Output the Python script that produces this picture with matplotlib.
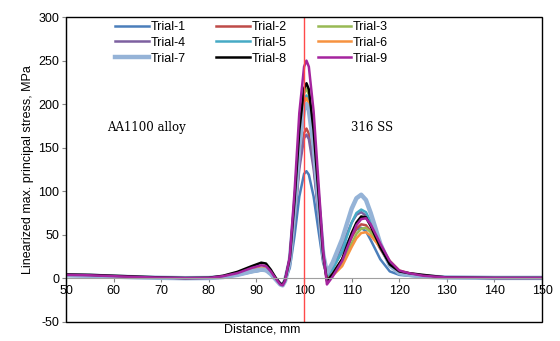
import matplotlib.pyplot as plt
from matplotlib.patches import Rectangle

plt.rcParams["font.family"] = ["Liberation Sans", "DejaVu Sans"]
plt.rcParams["axes.unicode_minus"] = False

# distance along the joint, mm
distance = [50, 55, 60, 65, 70, 75, 80, 83, 86, 89, 91, 92, 93, 94, 95, 95.5, 96,
            97, 98, 99, 100, 100.5, 101, 102, 103, 104, 104.8,
            106, 108, 110, 111, 112, 113, 114, 116, 118, 120, 122, 125, 130, 140, 150]

trial_1 = [3, 2.5, 1.8, 1, 0.5, 0.2, 0.3, 1.3, 3.6, 7.2, 9, 8.5, 5, -1, -7, -8, -3,
           12, 49, 94, 120, 123, 119, 94, 56, 18, 3,
           12, 30, 50, 56, 58, 54, 44, 22, 8, 4, 3, 2, 1, 0.5, 0.5]
trial_2 = [3.5, 3, 2, 1.2, 0.6, 0.2, 0.4, 1.6, 4.4, 8.8, 11, 10.3, 6, -1, -7, -8, -3,
           17, 69, 131, 167, 172, 166, 131, 77, 22, 0,
           6, 22, 47, 57, 62, 61, 54, 34, 16, 7, 5, 3, 1, 0.5, 0.5]
trial_3 = [3.5, 3, 2, 1.2, 0.6, 0.2, 0.4, 1.8, 4.8, 9.6, 12, 11.2, 6.6, -1, -7, -8, -3,
           22, 87, 166, 212, 218, 211, 166, 98, 28, -2,
           4, 17, 40, 51, 57, 58, 53, 37, 19, 8, 5, 3, 1, 0.5, 0.5]
trial_4 = [3.5, 3, 2, 1.2, 0.6, 0.2, 0.4, 1.6, 4.4, 8.8, 11, 10.3, 6, -1, -7, -8, -3,
           17, 66, 126, 161, 165, 160, 126, 75, 24, 2,
           14, 38, 64, 73, 76, 72, 62, 36, 15, 7, 5, 3, 1, 0.5, 0.5]
trial_5 = [3.5, 3, 2, 1.2, 0.6, 0.2, 0.4, 1.5, 4, 8, 10, 9.5, 5, -1, -7, -8, -3,
           21, 84, 160, 205, 210, 203, 160, 95, 30, 2,
           10, 32, 64, 75, 79, 76, 65, 38, 17, 7, 5, 3, 1, 0.5, 0.5]
trial_6 = [3.5, 3, 2, 1.2, 0.6, 0.2, 0.4, 1.8, 4.5, 9.5, 12, 11, 6.5, -1, -7, -8, -3,
           21, 83, 158, 202, 207, 200, 158, 93, 26, -1,
           3, 14, 36, 46, 52, 53, 49, 36, 20, 9, 6, 3, 1, 0.5, 0.5]
trial_7 = [3.5, 3, 2, 1.2, 0.6, 0.2, 0.4, 1.5, 4, 8, 10, 9.5, 5, -1, -7, -8, -3,
           20, 80, 152, 195, 200, 193, 152, 90, 28, 6,
           18, 45, 80, 92, 96, 90, 75, 40, 15, 6, 4, 2, 1, 0.5, 0.5]
trial_8 = [4.5, 4, 3, 2, 1, 0.4, 0.7, 3, 7.5, 14, 18, 17, 10, 1, -6, -7, -2,
           23, 90, 170, 218, 224, 217, 170, 100, 28, -3,
           5, 22, 52, 64, 71, 70, 60, 36, 16, 8, 6, 4, 1, 0.5, 0.5]
trial_9 = [4, 3.5, 2.5, 1.5, 0.8, 0.3, 0.5, 2.5, 6, 12, 15, 14, 8, 0, -7, -8, -3,
           25, 100, 190, 243, 250, 243, 192, 112, 32, -7,
           2, 20, 48, 61, 68, 69, 62, 40, 20, 9, 6, 3, 1, 0.5, 0.5]

trials = [trial_1, trial_2, trial_3, trial_4, trial_5, trial_6, trial_7, trial_8, trial_9]
labels = ["Trial-1", "Trial-2", "Trial-3", "Trial-4", "Trial-5",
          "Trial-6", "Trial-7", "Trial-8", "Trial-9"]
colors = ["#4a7ebb", "#be4b48", "#98b954", "#7d60a0", "#46aac5",
          "#f69240", "#95b3d7", "#000000", "#a5249e"]
widths = [1.8, 1.8, 1.8, 1.8, 1.8, 1.8, 3.2, 1.8, 1.8]

fig = plt.figure(figsize=(5.6, 3.41), dpi=100)
ax = fig.add_axes([0.118, 0.056, 0.85, 0.894])

handles = []
for y, lab, c, w in zip(trials, labels, colors, widths):
    h, = ax.plot(distance, y, color=c, lw=w, label=lab, solid_joinstyle="round")
    handles.append(h)

ax.axvline(100, color="#ff4a4a", lw=1, zorder=3)

ax.set_xlim(50, 150)
ax.set_ylim(-50, 300)
ax.set_xticks(range(50, 151, 10))
ax.set_yticks(range(-50, 301, 50))
ax.tick_params(labelsize=9, length=3, color="#888888", pad=2)

for s in ["top", "right"]:
    ax.spines[s].set_visible(False)
ax.spines["bottom"].set_position(("data", 0))
ax.spines["bottom"].set_color("#a0a0a0")
ax.spines["left"].set_color("#888888")
ax.add_patch(Rectangle((0, 0), 1, 1, transform=ax.transAxes, fill=False,
                       edgecolor="black", lw=1, clip_on=False, zorder=5))

ax.set_ylabel("Linearized max. principal stress, MPa", fontsize=9, labelpad=3)
fig.text(0.468, 0.015, "Distance, mm", fontsize=9, ha="center", va="bottom")

ax.text(58.6, 173, "AA1100 alloy", fontsize=8.5, family="DejaVu Serif", va="center")
ax.text(109.8, 173, "316 SS", fontsize=8.5, family="DejaVu Serif", va="center")

# legend filled row by row like the original
order = [0, 3, 6, 1, 4, 7, 2, 5, 8]
ax.legend([handles[i] for i in order], [labels[i] for i in order],
          ncol=3, loc="upper left", bbox_to_anchor=(0.097, 0.995), frameon=False,
          fontsize=9, handlelength=2.7, handletextpad=0.15, columnspacing=2.45,
          labelspacing=0.3, borderaxespad=0, borderpad=0.2)

fig.savefig("out.png", dpi=100)
